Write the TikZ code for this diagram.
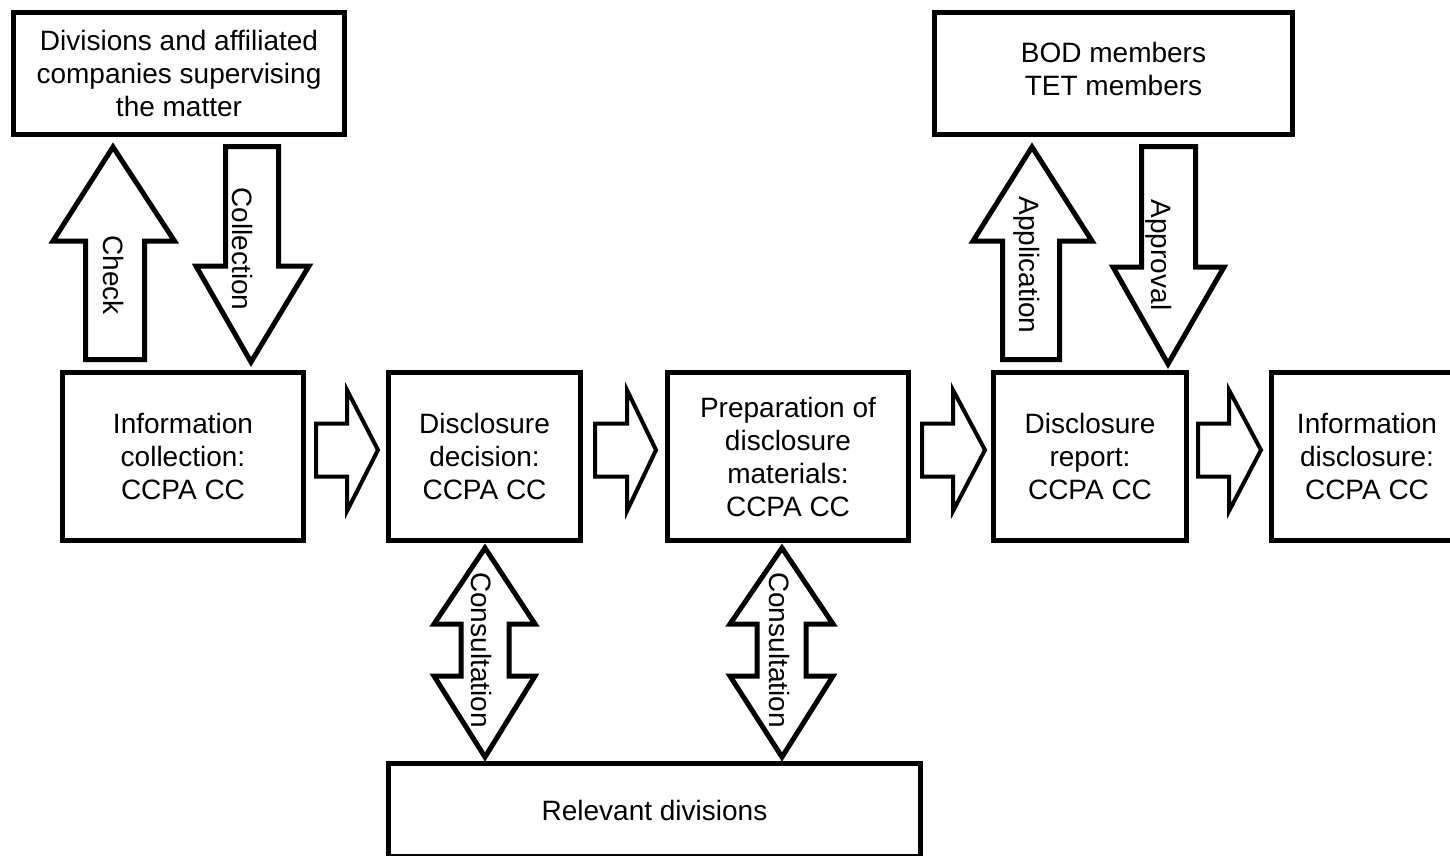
\documentclass[tikz,border=0pt]{standalone}
\usepackage{fontspec}
\setmainfont{Liberation Sans}
\usetikzlibrary{calc}
\begin{document}
\begin{tikzpicture}[x=1pt,y=-1pt,
  box/.style={draw,line width=5pt,align=center,inner sep=0pt,font=\fontsize{28}{33}\selectfont},
  barrow/.style={draw,line width=5pt,fill=white,line join=miter},
  sarrow/.style={draw,line width=4pt,fill=white,line join=miter},
  lab/.style={font=\fontsize{28}{33}\selectfont,rotate=-90,inner sep=0pt}]
\useasboundingbox (0,0) rectangle (1450,855);
% boxes
\node[box,minimum width=331pt,minimum height=122pt] (sup) at (179,73.5) {Divisions and affiliated\\companies supervising\\the matter};
\node[box,minimum width=358pt,minimum height=122pt] (bod) at (1113.5,73.5) {};
\node[font=\fontsize{28}{33}\selectfont,align=center,inner sep=0pt] (bodtext) at (1113.5,69) {BOD members\\TET members};
\node[box,minimum width=241pt,minimum height=168pt] (info) at (183,456.5) {Information\\collection:\\CCPA CC};
\node[box,minimum width=192pt,minimum height=168pt] (dec) at (484.5,456.5) {Disclosure\\decision:\\CCPA CC};
\node[box,minimum width=241pt,minimum height=168pt] (prep) at (788,456.5) {Preparation of\\disclosure\\materials:\\CCPA CC};
\node[box,minimum width=193pt,minimum height=168pt] (rep) at (1090,456.5) {Disclosure\\report:\\CCPA CC};
\node[box,minimum width=191pt,minimum height=168pt] (disc) at (1367,456.5) {Information\\disclosure:\\CCPA CC};
\node[box,minimum width=532pt,minimum height=93pt] (rel) at (654.5,810) {Relevant divisions};
% vertical block arrows
\draw[barrow] (85.5,359.5) -- (85.5,241) -- (53,241) -- (113,147) -- (174.5,241) -- (144.5,241) -- (144.5,359.5) -- cycle;
\node[lab] (lcheck) at (114,275) {Check};
\draw[barrow] (225.5,146.5) -- (278.5,146.5) -- (278.5,266) -- (309,266) -- (251,362) -- (196,266) -- (225.5,266) -- cycle;
\node[lab] (lcoll) at (243,249) {Collection};
\draw[barrow] (1002.5,359.5) -- (1002.5,241) -- (973,241) -- (1032,147) -- (1092,241) -- (1059.5,241) -- (1059.5,359.5) -- cycle;
\node[lab] (lappl) at (1027,265) {Application};
\draw[barrow] (1141.5,146.5) -- (1195.5,146.5) -- (1195.5,267) -- (1224,267) -- (1168,364) -- (1113,267) -- (1141.5,267) -- cycle;
\node[lab] (lappr) at (1159,255) {Approval};
% consultation double arrows
\draw[barrow] (485,548) -- (535,624) -- (509,624) -- (509,676) -- (535,676) -- (485,757) -- (434,676) -- (461,676) -- (461,624) -- (434,624) -- cycle;
\node[lab] (lcons1) at (482,650) {Consultation};
\draw[barrow] (782,548) -- (833,624) -- (806,624) -- (806,676) -- (833,676) -- (782,757) -- (730,676) -- (757,676) -- (757,624) -- (730,624) -- cycle;
\node[lab] (lcons2) at (779,650) {Consultation};
% horizontal block arrows
\foreach \s/\h/\t in {316/347/378, 595/627/656, 922/953/985, 1198/1229/1261}{
  \draw[sarrow] (\s,423.5) -- (\h,423.5) -- (\h,390) -- (\t,450) -- (\h,511) -- (\h,476.5) -- (\s,476.5) -- cycle;
}
\end{tikzpicture}
\end{document}
